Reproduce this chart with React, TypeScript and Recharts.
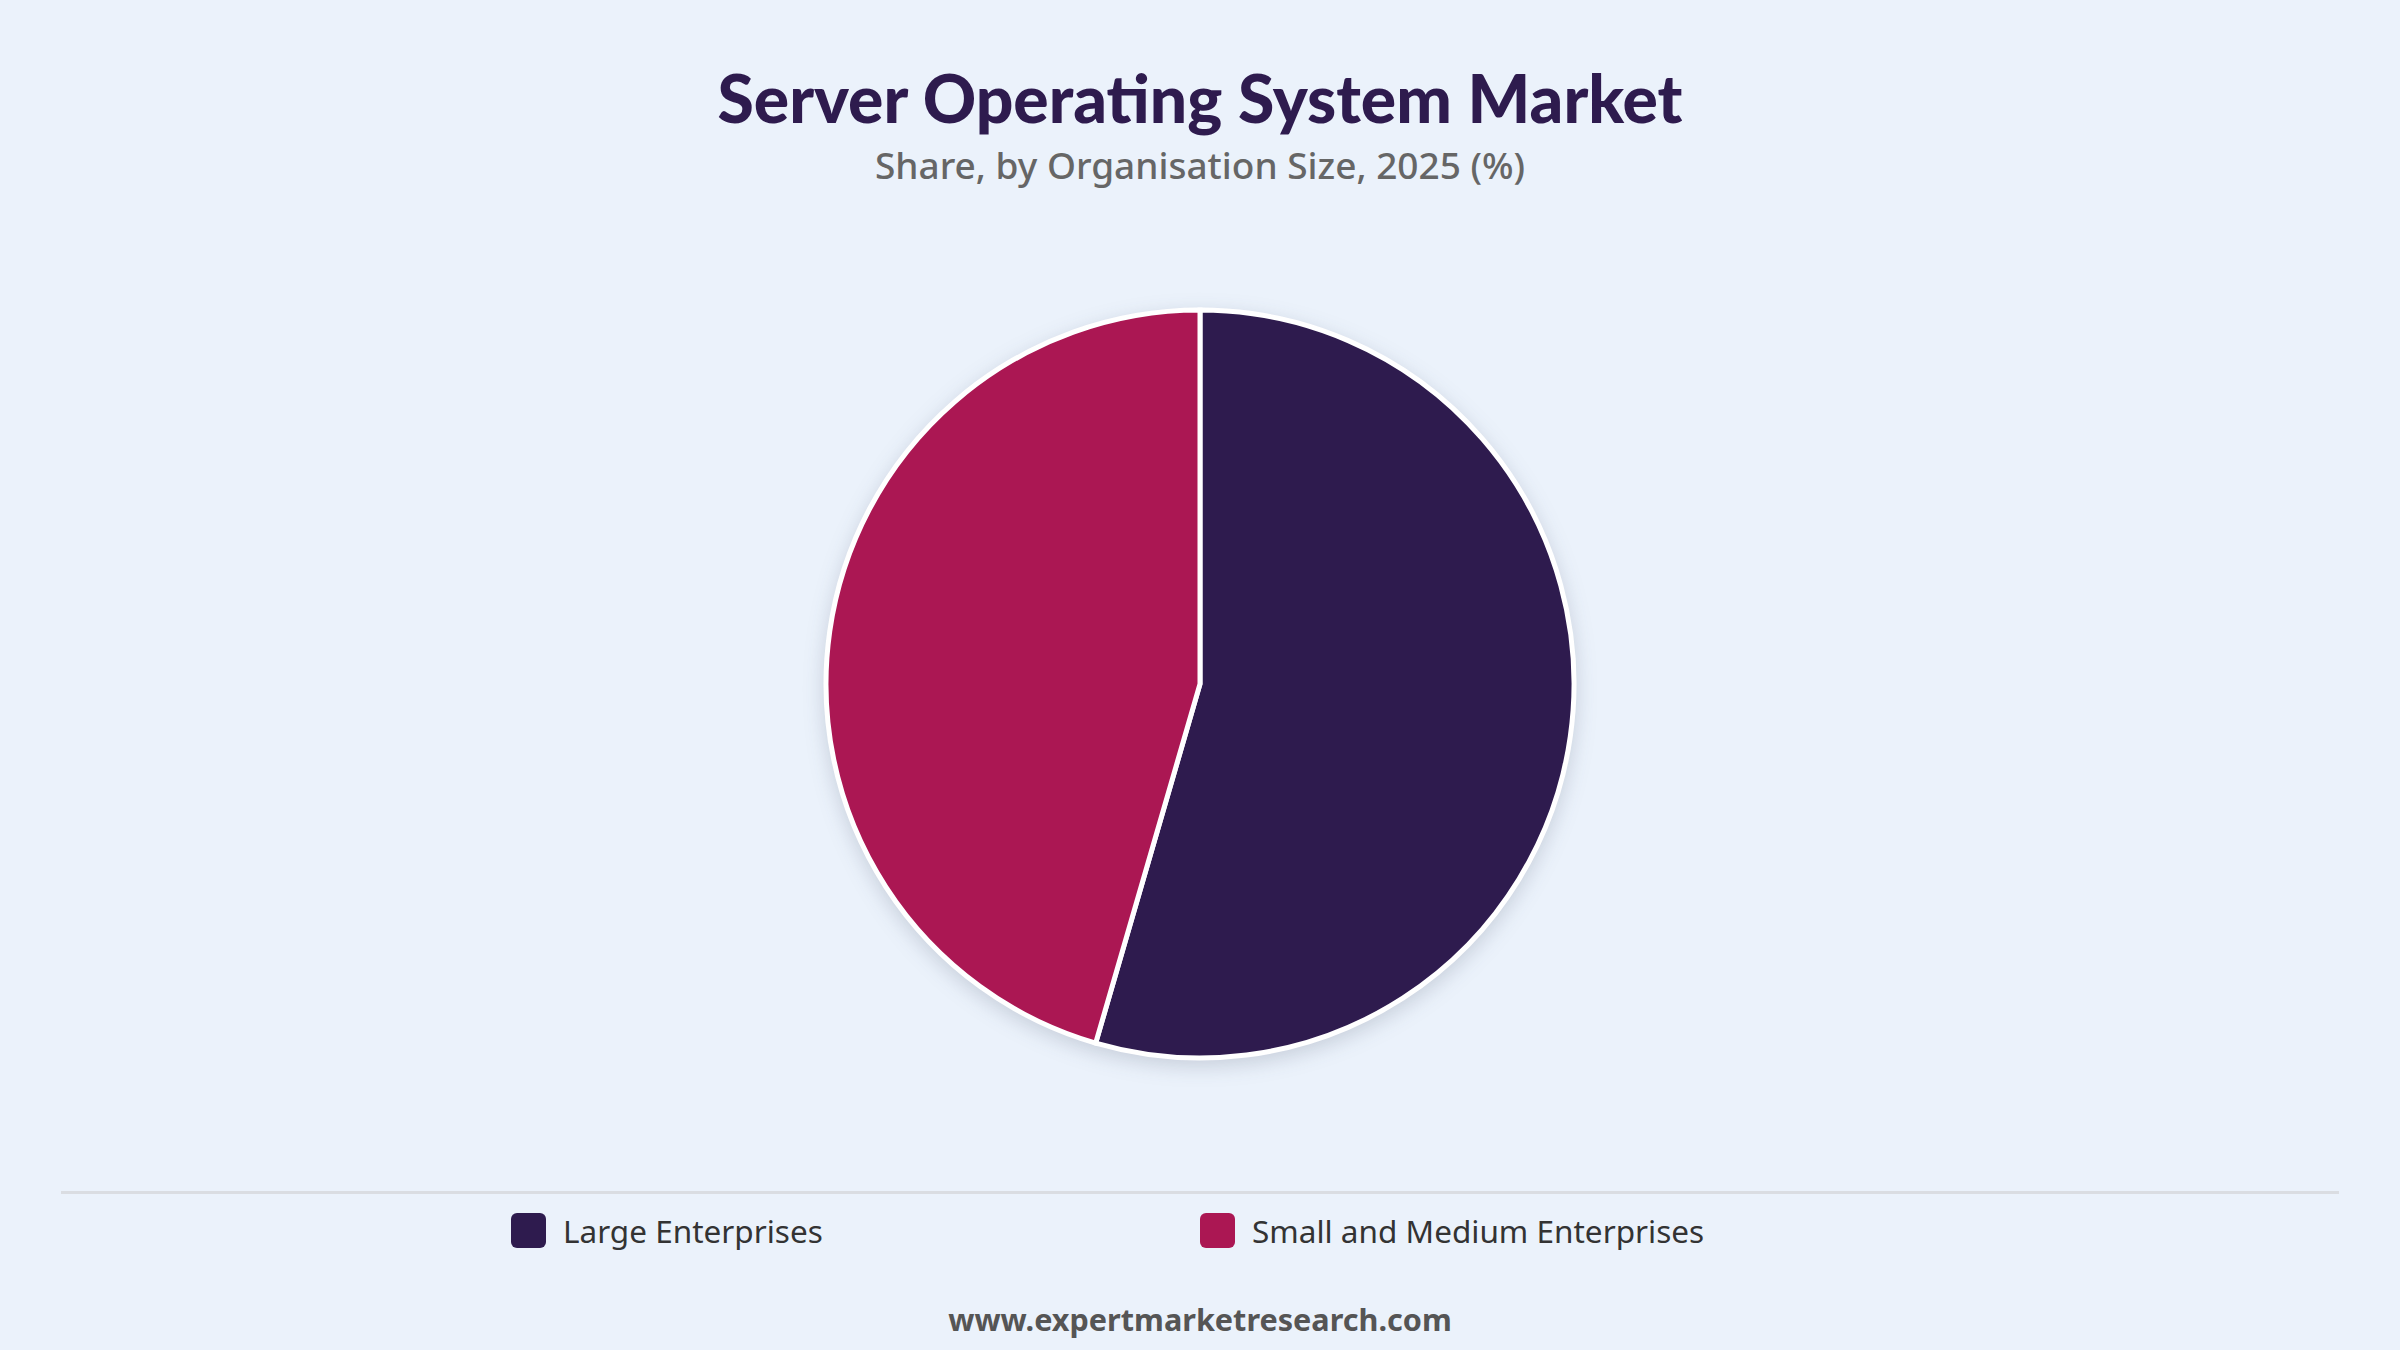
import React from 'react';
import { PieChart, Pie, Cell } from 'recharts';

// Share by organisation size, 2025 (%)
const segments = ['Large Enterprises', 'Small and Medium Enterprises'];
const shares = [54.5, 45.5];
const colors = ['#2E1B4E', '#AB1753'];

const data = segments.map((name, i) => ({ name, value: shares[i] }));

const FONT = '"Noto Sans", "Open Sans", sans-serif';

export default function App() {
  return (
    <div
      style={{
        position: 'fixed',
        left: 0,
        top: 0,
        width: 2400,
        height: 1350,
        background: '#EBF2FB',
        fontFamily: FONT,
        overflow: 'hidden',
      }}
    >
      <div
        style={{
          position: 'absolute',
          top: 58,
          width: '100%',
          textAlign: 'center',
          fontFamily: 'Lato, "Noto Sans", sans-serif',
          fontWeight: 900,
          fontSize: 66,
          color: '#2E1B4E',
          lineHeight: '80px',
        }}
      >
        Server Operating System Market
      </div>
      <div
        style={{
          position: 'absolute',
          top: 140,
          width: '100%',
          textAlign: 'center',
          fontWeight: 500,
          fontSize: 37,
          color: '#666666',
          lineHeight: '50px',
        }}
      >
        Share, by Organisation Size, 2025 (%)
      </div>

      <div
        style={{
          position: 'absolute',
          left: 0,
          top: 0,
          filter: 'drop-shadow(0px 6px 10px rgba(40, 50, 80, 0.18))',
        }}
      >
        <PieChart width={2400} height={1150} margin={{ top: 0, right: 0, bottom: 0, left: 0 }}>
          <Pie
            data={data}
            dataKey="value"
            nameKey="name"
            cx={1200}
            cy={684}
            outerRadius={374}
            startAngle={90}
            endAngle={-270}
            stroke="#FFFFFF"
            strokeWidth={5}
            isAnimationActive={false}
            label={false}
            labelLine={false}
          >
            {data.map((d, i) => (
              <Cell key={d.name} fill={colors[i]} />
            ))}
          </Pie>
        </PieChart>
      </div>

      <div
        style={{
          position: 'absolute',
          left: 61,
          top: 1191,
          width: 2278,
          height: 3,
          background: '#DADDE2',
        }}
      />

      {segments.map((name, i) => (
        <div
          key={name}
          style={{
            position: 'absolute',
            left: i === 0 ? 511 : 1200,
            top: 1212,
            height: 36,
            display: 'flex',
            alignItems: 'center',
            fontSize: 31.5,
            color: '#333333',
          }}
        >
          <span
            style={{
              display: 'inline-block',
              width: 35,
              height: 35,
              borderRadius: 6,
              background: colors[i],
              marginRight: 17,
            }}
          />
          {name}
        </div>
      ))}

      <div
        style={{
          position: 'absolute',
          top: 1297,
          width: '100%',
          textAlign: 'center',
          fontWeight: 700,
          fontSize: 30.6,
          color: '#555555',
          lineHeight: '44px',
        }}
      >
        www.expertmarketresearch.com
      </div>
    </div>
  );
}
